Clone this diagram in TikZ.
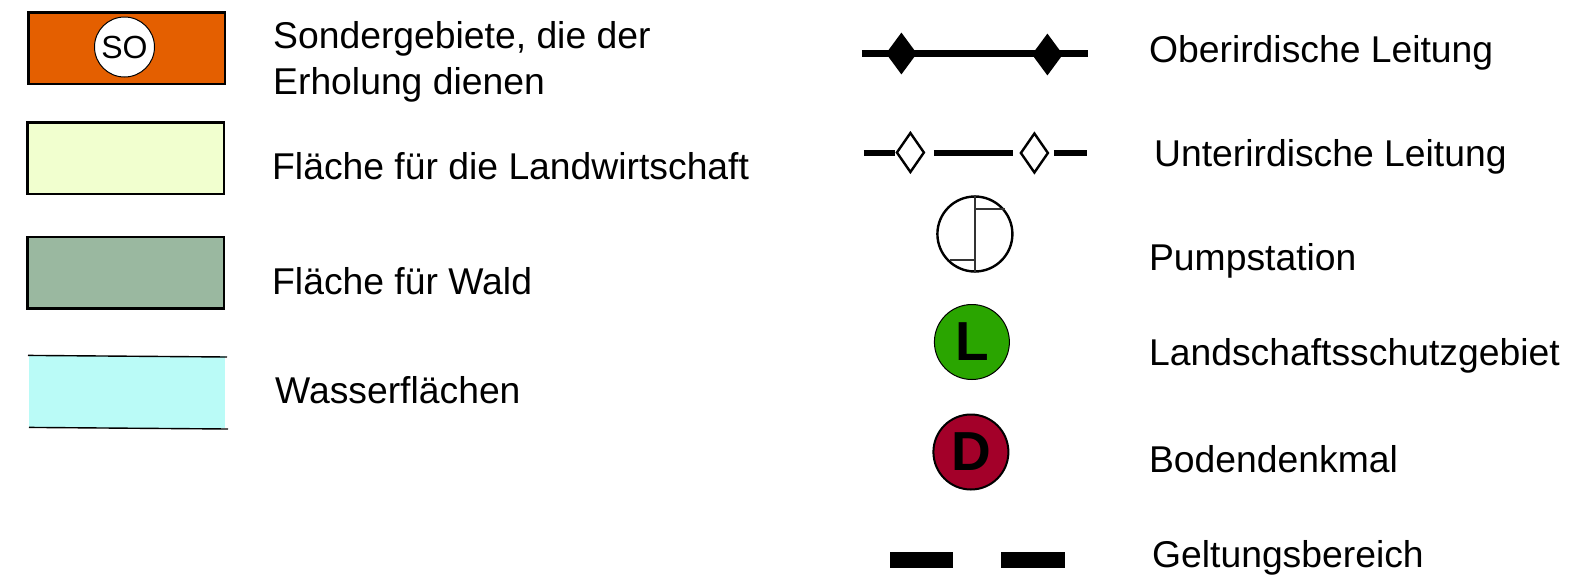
\documentclass[tikz,border=0pt]{standalone}
\usepackage{fontspec}
\setmainfont{Liberation Sans}
\usetikzlibrary{shapes.geometric}
\definecolor{cOrange}{HTML}{E45F00}
\definecolor{cAgri}{HTML}{F1FFCF}
\definecolor{cWald}{HTML}{9AB8A0}
\definecolor{cWater}{HTML}{BAFBF7}
\definecolor{cGreen}{HTML}{2AA500}
\definecolor{cRed}{HTML}{A30029}
\tikzset{
  lab/.style={anchor=base west,inner sep=0pt,font=\fontsize{37.3}{37.3}\selectfont},
  swatch/.style={draw=black,line width=2.7pt},
  waterline/.style={draw=black,line width=1.4pt},
  lead/.style={draw=black,line width=6.5pt},
  solidgem/.style={diamond,fill=black,inner sep=0pt,minimum width=31pt,minimum height=42pt},
  opengem/.style={diamond,draw=black,fill=white,line width=2.4pt,inner sep=0pt,minimum width=28pt,minimum height=40pt},
  disc/.style={circle,draw=black,inner sep=0pt},
  thin/.style={draw=black!80,line width=1.3pt},
  bar/.style={fill=black},
  letter/.style={font=\bfseries\fontsize{55}{55}\selectfont}
}
\begin{document}
\begin{tikzpicture}[x=1pt,y=-1pt]
\useasboundingbox (0,0) rectangle (1571,576);
% swatches
\draw[swatch,fill=cOrange] (28.5,12.5) rectangle (225,84);
\node[disc,fill=white,line width=1pt,minimum size=60pt,font=\fontsize{32}{32}\selectfont] (so) at (124.5,47) {SO};
\draw[swatch,fill=cAgri] (27.5,122.5) rectangle (224,194);
\draw[swatch,fill=cWald] (27.5,237) rectangle (224,308.5);
\fill[cWater] (29,356) rectangle (225,428);
\coordinate (w1a) at (28,355.4); \coordinate (w1b) at (227,357);
\coordinate (w2a) at (29,427.4); \coordinate (w2b) at (228,429);
\draw[waterline] (w1a) -- (w1b);
\draw[waterline] (w2a) -- (w2b);
% labels left
\node[lab] (t1) at (273,48) {Sondergebiete, die der};
\node[lab] (t1b) at (273,94) {Erholung dienen};
\node[lab] (t2) at (272,179) {Fläche für die Landwirtschaft};
\node[lab] (t3) at (272,294) {Fläche für Wald};
\node[lab] (t4) at (275,403) {Wasserflächen};
\begin{scope}[xshift=3.9pt]
% overhead line
\coordinate (oa) at (858,53.5); \coordinate (ob) at (1084,53.5);
\draw[lead] (oa) -- (ob);
\node[solidgem] (od1) at (897.5,53.5) {};
\node[solidgem] (od2) at (1043.5,54.5) {};
% underground line
\node[opengem] (ud1) at (906.5,152.5) {};
\node[opengem] (ud2) at (1030.5,153) {};
\coordinate (ua) at (860,152.5);
\coordinate (ub) at (930,152.5); \coordinate (uc) at (1009,152.5);
\coordinate (ud) at (1050,153); \coordinate (ue) at (1083,153);
\draw[lead,line width=6pt] (ua) -- (ud1.west);
\draw[lead,line width=6pt] (ub) -- (uc);
\draw[lead,line width=6pt] (ud) -- (ue);
% pump
\node[disc,line width=2.4pt,minimum size=75pt] (pump) at (971,234) {};
\draw[thin] (pump.north) -- (pump.south);
\coordinate (pa) at (971,209); \coordinate (pb) at (1001,209);
\coordinate (pc) at (946,260); \coordinate (pd) at (971,260);
\draw[thin] (pa) -- (pb);
\draw[thin] (pc) -- (pd);
% L, D
\node[disc,fill=cGreen,line width=1pt,minimum size=75pt,letter] (ll) at (968,342) {\raisebox{-1.2pt}{L}};
\node[disc,fill=cRed,line width=2pt,minimum size=75pt,letter] (dd) at (967,452) {\raisebox{-1.2pt}{D}};
% bars
\fill[bar] (886,551.5) rectangle (949.5,568);
\fill[bar] (997,551.5) rectangle (1061.5,568);
% labels right
\node[lab] (r1) at (1145,62) {Oberirdische Leitung};
\node[lab] (r2) at (1150,166) {Unterirdische Leitung};
\node[lab] (r3) at (1145,270) {Pumpstation};
\node[lab] (r4) at (1145,365) {Landschaftsschutzgebiet};
\node[lab] (r5) at (1145,472.5) {Bodendenkmal};
\node[lab] (r6) at (1148,567.5) {Geltungsbereich};
\end{scope}
\end{tikzpicture}
\end{document}
